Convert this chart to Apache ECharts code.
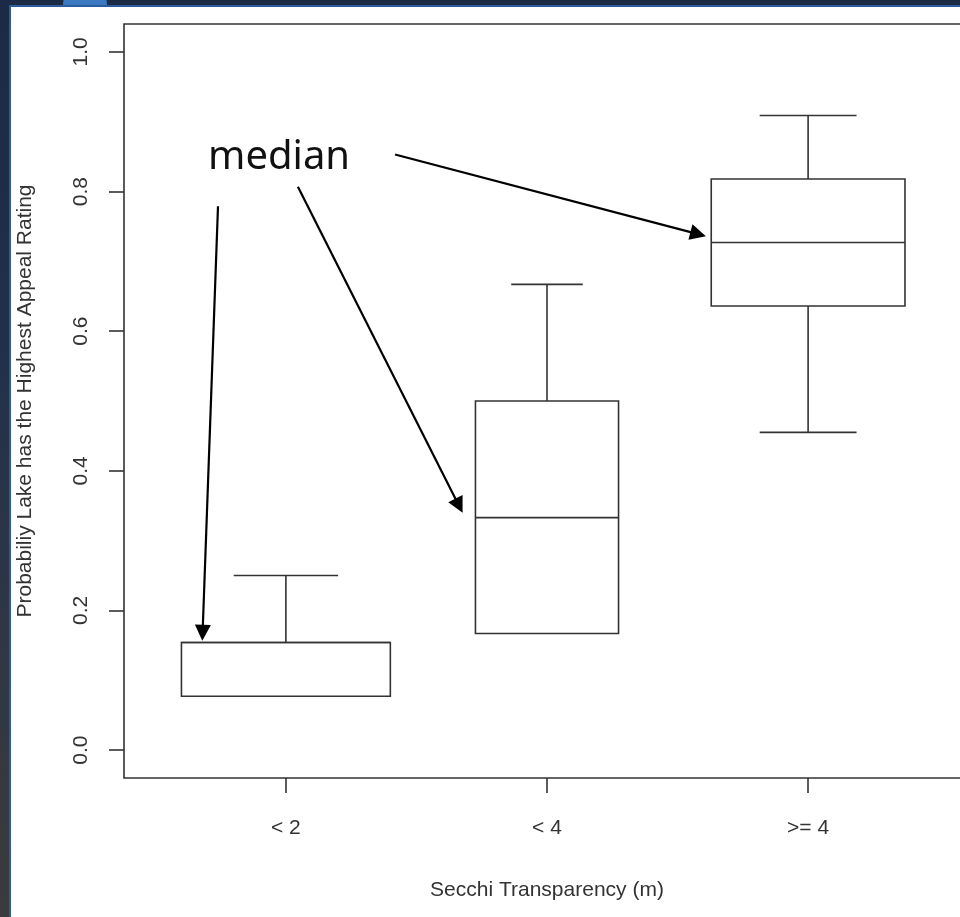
<!DOCTYPE html>
<html>
<head>
<meta charset="utf-8">
<script src="https://cdn.jsdelivr.net/npm/echarts@6/dist/echarts.min.js"></script>
<style>
  html, body { margin: 0; padding: 0; width: 960px; height: 917px; overflow: hidden; }
  body { background: linear-gradient(180deg, #1b2a45 0%, #22314a 40%, #2f3746 70%, #3a3b3c 100%); position: relative; }
  #dot { position: absolute; left: 63px; top: -17px; width: 44px; height: 44px; border-radius: 50%; background: #3b78c2; }
  #panel { position: absolute; left: 9px; top: 5px; width: 951px; height: 912px; background: #2c5c9c; }
  #chart { position: absolute; left: 11px; top: 7px; width: 949px; height: 910px; background: #ffffff; }
</style>
</head>
<body>
<div id="dot"></div>
<div id="panel"></div>
<div id="chart"></div>
<script>
// ---- data ----
const categories   = ['< 2', '< 4', '>= 4'];
const whiskerLow   = [0.077, 0.167, 0.455];
const quartile1    = [0.077, 0.167, 0.636];
const medians      = [0.154, 0.333, 0.727];
const quartile3    = [0.154, 0.500, 0.818];
const whiskerHigh  = [0.250, 0.667, 0.909];
const boxWidths    = [0.800, 0.548, 0.742];   // relative box widths (varwidth)
const yTicks       = [0, 0.2, 0.4, 0.6, 0.8, 1.0];
const xTicks       = [1, 2, 3];
const annotationText = 'median';
// arrow start/end in data coordinates (x = group position, y = probability)
const arrowStarts  = [[0.740, 0.779], [1.046, 0.807], [1.418, 0.853]];
const arrowEnds    = [[0.681, 0.168], [1.663, 0.350], [2.579, 0.739]];

const boxData = categories.map((c, i) => [i + 1, whiskerLow[i], quartile1[i], medians[i], quartile3[i], whiskerHigh[i], boxWidths[i]]);

const lineCol = '#333333';
const textCol = '#333333';

const chart = echarts.init(document.getElementById('chart'), null, { renderer: 'canvas' });

function renderBox(params, api) {
  const x = api.value(0);
  const lo = api.value(1), q1 = api.value(2), md = api.value(3), q3 = api.value(4), hi = api.value(5);
  const halfBox = api.value(6) / 2, halfCap = api.value(6) / 4;
  const pL = api.coord([x - halfBox, q3]);
  const pR = api.coord([x + halfBox, q1]);
  const st = { stroke: lineCol, lineWidth: 1.6, fill: null };
  const children = [
    { type: 'rect', shape: { x: pL[0], y: pL[1], width: pR[0] - pL[0], height: pR[1] - pL[1] },
      style: { stroke: lineCol, lineWidth: 1.6, fill: '#ffffff' } }
  ];
  const mL = api.coord([x - halfBox, md]), mR = api.coord([x + halfBox, md]);
  children.push({ type: 'line', shape: { x1: mL[0], y1: mL[1], x2: mR[0], y2: mR[1] }, style: st });
  if (hi > q3) {
    const a = api.coord([x, q3]), b = api.coord([x, hi]);
    children.push({ type: 'line', shape: { x1: a[0], y1: a[1], x2: b[0], y2: b[1] }, style: st });
    const c1 = api.coord([x - halfCap, hi]), c2 = api.coord([x + halfCap, hi]);
    children.push({ type: 'line', shape: { x1: c1[0], y1: c1[1], x2: c2[0], y2: c2[1] }, style: st });
  }
  if (lo < q1) {
    const a = api.coord([x, q1]), b = api.coord([x, lo]);
    children.push({ type: 'line', shape: { x1: a[0], y1: a[1], x2: b[0], y2: b[1] }, style: st });
    const c1 = api.coord([x - halfCap, lo]), c2 = api.coord([x + halfCap, lo]);
    children.push({ type: 'line', shape: { x1: c1[0], y1: c1[1], x2: c2[0], y2: c2[1] }, style: st });
  }
  return { type: 'group', children };
}

const option = {
  animation: false,
  backgroundColor: '#ffffff',
  textStyle: { fontFamily: '"Liberation Sans", Arial, sans-serif' },
  grid: {
    show: true, left: 113, top: 17, width: 846, height: 754,
    outerBoundsMode: 'none', containLabel: false,
    borderColor: lineCol, borderWidth: 1.6, backgroundColor: 'transparent'
  },
  xAxis: {
    type: 'value', min: 0.38, max: 3.62,
    splitLine: { show: false },
    axisLine: { show: false, onZero: false },
    axisTick: { show: true, customValues: xTicks, length: 15, lineStyle: { color: lineCol, width: 1.6 } },
    axisLabel: {
      customValues: xTicks, margin: 40, fontSize: 21, color: textCol,
      fontFamily: '"Liberation Sans", Arial, sans-serif',
      formatter: v => categories[Math.round(v) - 1] || ''
    },
    name: 'Secchi Transparency (m)', nameLocation: 'middle', nameGap: 102,
    nameTextStyle: { fontSize: 21, color: textCol, fontFamily: '"Liberation Sans", Arial, sans-serif' }
  },
  yAxis: {
    type: 'value', min: -0.04, max: 1.04,
    splitLine: { show: false },
    axisLine: { show: false, onZero: false },
    axisTick: { show: true, customValues: yTicks, length: 15, lineStyle: { color: lineCol, width: 1.6 } },
    axisLabel: {
      customValues: yTicks, margin: 32, rotate: 90, fontSize: 21, color: textCol,
      fontFamily: '"Liberation Sans", Arial, sans-serif',
      formatter: v => v.toFixed(1)
    },
    name: 'Probabiliy Lake has the Highest Appeal Rating', nameLocation: 'middle', nameGap: 88,
    nameTextStyle: { fontSize: 21, color: textCol, fontFamily: '"Liberation Sans", Arial, sans-serif' }
  },
  graphic: [
    { type: 'text', left: 197, top: 131, z: 100,
      style: { text: annotationText, font: '40px "Noto Sans", "Open Sans", sans-serif', fill: '#111111' } }
  ],
  series: [
    {
      type: 'custom',
      name: 'box',
      renderItem: renderBox,
      encode: { x: 0, y: [1, 2, 3, 4, 5] },
      data: boxData,
      z: 5,
      markLine: {
        silent: true,
        symbol: ['none', 'triangle'],
        symbolSize: 16,
        symbolOffset: [8, 0],
        label: { show: false },
        lineStyle: { color: '#000000', width: 2.2, type: 'solid' },
        itemStyle: { color: '#000000' },
        emphasis: { disabled: true },
        data: arrowStarts.map((s, i) => [{ coord: s }, { coord: arrowEnds[i] }])
      }
    }
  ]
};

chart.setOption(option);
</script>
</body>
</html>
